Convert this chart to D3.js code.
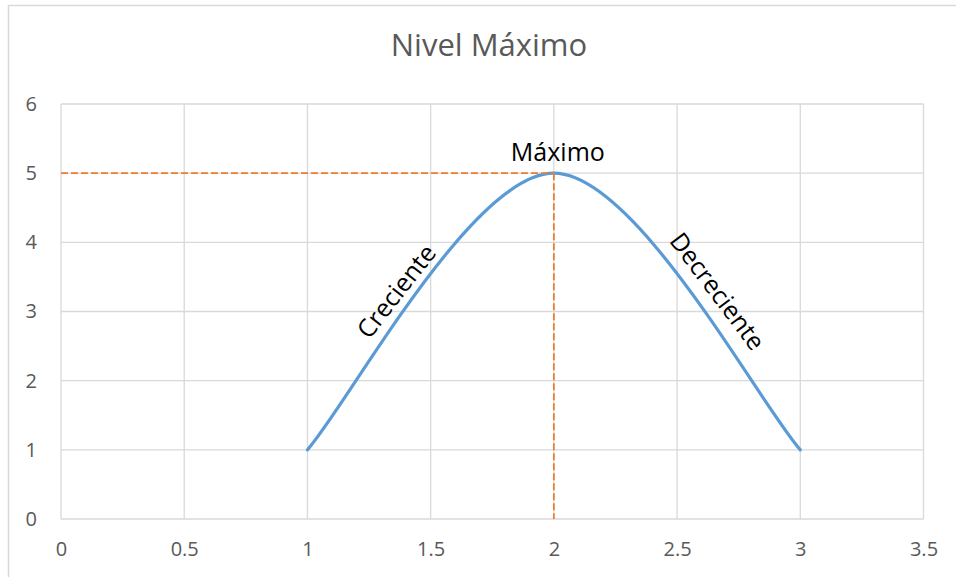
<!DOCTYPE html>
<html>
<head>
<meta charset="utf-8">
<script src="https://cdn.jsdelivr.net/npm/d3@7"></script>
<style>
  html, body { margin: 0; padding: 0; background: #fff; }
  svg { display: block; }
  text { font-family: "Open Sans", "Noto Sans", sans-serif; }
</style>
</head>
<body>
<svg id="chart" width="956" height="577"></svg>
<script>
// Series: a single rise-and-fall curve with its peak at (2, 5)
const xValues = [1, 2, 3];
const yValues = [1, 5, 1];

// Peak marker and guide lines
const peakX = 2;
const peakY = 5;

// Axis ticks
const xTicks = [0, 0.5, 1, 1.5, 2, 2.5, 3, 3.5];
const yTicks = [0, 1, 2, 3, 4, 5, 6];

// Text
const chartTitle = "Nivel Máximo";
const peakLabel = "Máximo";
const riseLabel = "Creciente";
const fallLabel = "Decreciente";

const W = 956, H = 577;
const plot = { left: 61, right: 923.5, top: 104, bottom: 519 };

const svg = d3.select("#chart");

const x = d3.scaleLinear().domain([0, 3.5]).range([plot.left, plot.right]);
const y = d3.scaleLinear().domain([0, 6]).range([plot.bottom, plot.top]);

// Outer chart frame
svg.append("rect")
  .attr("x", 8.5).attr("y", 5.5)
  .attr("width", W + 10).attr("height", H + 10)
  .attr("fill", "#fff")
  .attr("stroke", "#d9d9d9").attr("stroke-width", 1.5);

// Title
svg.append("text")
  .attr("x", 489).attr("y", 56)
  .attr("text-anchor", "middle")
  .attr("font-size", 31)
  .attr("fill", "#595959")
  .text(chartTitle);

// Gridlines
const grid = svg.append("g").attr("stroke", "#d9d9d9").attr("stroke-width", 1.3);
grid.selectAll("line.v").data(xTicks).join("line")
  .attr("class", "v")
  .attr("x1", d => x(d)).attr("x2", d => x(d))
  .attr("y1", plot.top).attr("y2", plot.bottom);
grid.selectAll("line.h").data(yTicks).join("line")
  .attr("class", "h")
  .attr("x1", plot.left).attr("x2", plot.right)
  .attr("y1", d => y(d)).attr("y2", d => y(d));

// Axes (labels only; the frame lines come from the grid)
const xAxis = svg.append("g")
  .attr("transform", `translate(0,${plot.bottom})`)
  .call(d3.axisBottom(x).tickValues(xTicks).tickSize(0).tickPadding(23).tickFormat(d3.format("")));
const yAxis = svg.append("g")
  .attr("transform", `translate(${plot.left},0)`)
  .call(d3.axisLeft(y).tickValues(yTicks).tickSize(0).tickPadding(24).tickFormat(d3.format("d")));
[xAxis, yAxis].forEach(a => {
  a.select(".domain").remove();
  a.selectAll("text")
    .attr("font-family", "\"Open Sans\", sans-serif")
    .attr("font-size", 20)
    .attr("fill", "#595959");
});

// Smooth line through the points using cubic Bézier segments
function smoothCurve(context) {
  let pts;
  return {
    areaStart() {}, areaEnd() {},
    lineStart() { pts = []; },
    point(px, py) { pts.push([+px, +py]); },
    lineEnd() {
      const n = pts.length;
      if (!n) return;
      context.moveTo(pts[0][0], pts[0][1]);
      for (let i = 0; i < n - 1; i++) {
        const p0 = pts[Math.max(i - 1, 0)], p1 = pts[i], p2 = pts[i + 1], p3 = pts[Math.min(i + 2, n - 1)];
        context.bezierCurveTo(
          p1[0] + (p2[0] - p0[0]) / 6, p1[1] + (p2[1] - p0[1]) / 6,
          p2[0] - (p3[0] - p1[0]) / 6, p2[1] - (p3[1] - p1[1]) / 6,
          p2[0], p2[1]);
      }
    }
  };
}

const points = xValues.map((v, i) => ({ x: v, y: yValues[i] }));
const line = d3.line().x(d => x(d.x)).y(d => y(d.y)).curve(smoothCurve);

svg.append("path")
  .datum(points)
  .attr("d", line)
  .attr("fill", "none")
  .attr("stroke", "#5b9bd5")
  .attr("stroke-width", 3.2)
  .attr("stroke-linecap", "round");

// Dashed guides to the peak
const guides = svg.append("g")
  .attr("stroke", "#ed7d31").attr("stroke-width", 1.8)
  .attr("stroke-dasharray", "7,3").attr("fill", "none");
guides.append("line")
  .attr("x1", x(0)).attr("x2", x(peakX))
  .attr("y1", y(peakY)).attr("y2", y(peakY));
guides.append("line")
  .attr("x1", x(peakX)).attr("x2", x(peakX))
  .attr("y1", y(peakY)).attr("y2", y(0));

// Annotations
svg.append("text")
  .attr("x", x(peakX) + 4).attr("y", y(peakY) - 12)
  .attr("text-anchor", "middle")
  .attr("font-size", 25)
  .attr("fill", "#000")
  .text(peakLabel);

svg.append("text")
  .attr("transform", `translate(${x(1.4) - 8},${y(3.1) - 12}) rotate(-52)`)
  .attr("text-anchor", "middle")
  .attr("dominant-baseline", "middle")
  .attr("font-size", 25)
  .attr("fill", "#000")
  .text(riseLabel);

svg.append("text")
  .attr("transform", `translate(${x(2.6) + 14},${y(3.1) - 12}) rotate(53)`)
  .attr("text-anchor", "middle")
  .attr("dominant-baseline", "middle")
  .attr("font-size", 25)
  .attr("fill", "#000")
  .text(fallLabel);
</script>
</body>
</html>
